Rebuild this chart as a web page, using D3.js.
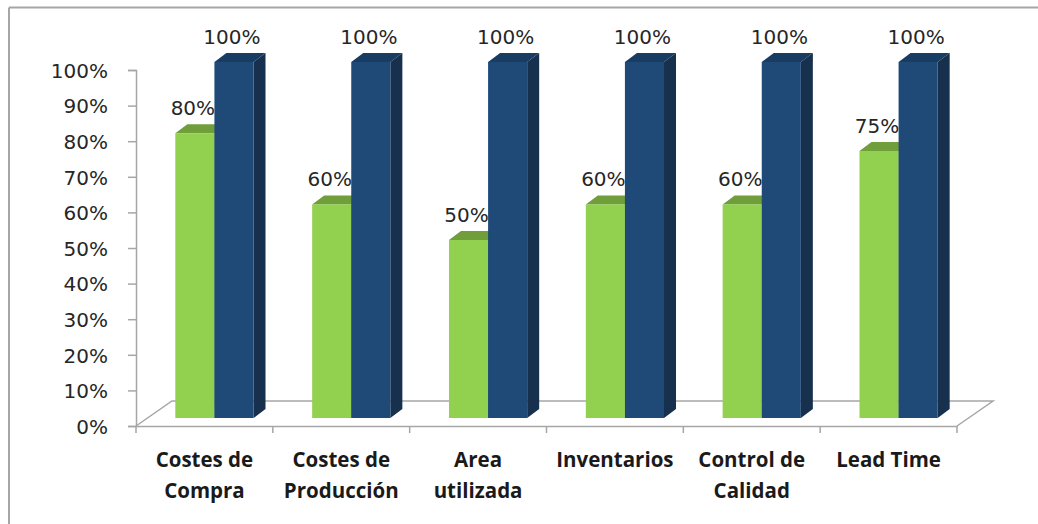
<!DOCTYPE html>
<html>
<head>
<meta charset="utf-8">
<script src="https://cdn.jsdelivr.net/npm/d3@7"></script>
<style>
  html, body { margin: 0; padding: 0; background: #fff; }
  svg { display: block; }
</style>
</head>
<body>
<svg id="chart" width="1038" height="524"></svg>
<script>
// Categories (two-line labels) and the two series, as fractions of 100 %
const categories = [
  ["Costes de", "Compra"],
  ["Costes de", "Producción"],
  ["Area", "utilizada"],
  ["Inventarios"],
  ["Control de", "Calidad"],
  ["Lead Time"]
];
const seriesBefore = [0.80, 0.60, 0.50, 0.60, 0.60, 0.75];
const seriesAfter  = [1.00, 1.00, 1.00, 1.00, 1.00, 1.00];
const tickValues = [0, 0.1, 0.2, 0.3, 0.4, 0.5, 0.6, 0.7, 0.8, 0.9, 1.0];

const svg = d3.select("#chart");
const W = 1038, H = 524;

// Outer frame (top and left edges visible)
svg.append("line").attr("x1", 9).attr("y1", 7.5).attr("x2", W).attr("y2", 7.5)
  .attr("stroke", "#a6a6a6").attr("stroke-width", 2);
svg.append("line").attr("x1", 9).attr("y1", 7.5).attr("x2", 9).attr("y2", H)
  .attr("stroke", "#a6a6a6").attr("stroke-width", 2);

// Plot geometry: front edge of the floor, the depth of the floor,
// the plane the bars stand in and the bars' own depth
const floorLeft = 136, floorRight = 957, floorY = 426;
const depth = { dx: 36, dy: -25 };
const barPlane = { dx: 10, dy: -8 };
const barDepth = { dx: 12, dy: -9 };

const ids = categories.map((c, i) => i);
const x = d3.scaleBand().domain(ids).range([floorLeft, floorRight]);
const axisY = d3.scaleLinear().domain([0, 1]).range([floorY, 70]);
const barY = d3.scaleLinear().domain([0, 1]).range([floorY + barPlane.dy, 70 + barPlane.dy]);

const inner = d3.scaleBand().domain(["before", "after"])
  .range([0, x.bandwidth()]).paddingOuter(0.75).paddingInner(0);

const gridColor = "#a6a6a6";

// Floor
const floor = svg.append("g").attr("fill", "none").attr("stroke", gridColor).attr("stroke-width", 1.5);
floor.append("path").attr("d", d3.line()([
  [floorLeft, floorY],
  [floorLeft + depth.dx, floorY + depth.dy],
  [floorRight + depth.dx, floorY + depth.dy],
  [floorRight, floorY]
]));

// Value axis
const yAxis = d3.axisLeft(axisY).tickValues(tickValues).tickSize(8).tickPadding(20)
  .tickFormat(d3.format(".0%"));
const gy = svg.append("g").attr("transform", `translate(${floorLeft},0)`).call(yAxis);
gy.select(".domain").attr("stroke", gridColor).attr("stroke-width", 1.5);
gy.selectAll(".tick line").attr("stroke", gridColor).attr("stroke-width", 1.5);
gy.selectAll(".tick text").attr("font-family", "DejaVu Sans").attr("font-size", 20)
  .attr("fill", "#262626").attr("dy", "0.36em");

// Category axis along the front edge of the floor
const xAxis = d3.axisBottom(x).tickSize(0).tickFormat("");
const gx = svg.append("g").attr("transform", `translate(0,${floorY})`).call(xAxis);
gx.select(".domain").attr("stroke", gridColor).attr("stroke-width", 1.5);
const boundaries = ids.map(i => x(i)).concat([floorRight]);
gx.selectAll(".bound").data(boundaries).join("line")
  .attr("x1", d => d).attr("x2", d => d).attr("y1", 0).attr("y2", 7)
  .attr("stroke", gridColor).attr("stroke-width", 1.5);

// Category labels
const labels = svg.append("g").attr("font-family", "Open Sans").attr("font-weight", 700)
  .attr("font-size", 20.5).attr("fill", "#1a1a1a").attr("text-anchor", "middle");
categories.forEach((lines, i) => {
  const t = labels.append("text").attr("x", x(i) + x.bandwidth() / 2);
  lines.forEach((ln, k) => {
    t.append("tspan").attr("x", x(i) + x.bandwidth() / 2).attr("y", 467 + k * 31).text(ln);
  });
});

// 3-D bars
const palettes = {
  before: { front: "#92d050", top: "#6f9e3b", side: "#5f8a31" },
  after:  { front: "#1f4a78", top: "#193c62", side: "#16304d" }
};

function drawBar(g, x0, w, v, pal) {
  const yb = barY(0), yt = barY(v);
  const { dx, dy } = barDepth;
  g.append("path").attr("fill", pal.side)
    .attr("d", d3.line()([[x0 + w, yb], [x0 + w + dx, yb + dy], [x0 + w + dx, yt + dy], [x0 + w, yt]]));
  g.append("path").attr("fill", pal.top)
    .attr("d", d3.line()([[x0, yt], [x0 + dx, yt + dy], [x0 + w + dx, yt + dy], [x0 + w, yt]]));
  g.append("rect").attr("x", x0).attr("y", yt).attr("width", w).attr("height", yb - yt)
    .attr("fill", pal.front);
}

const bars = svg.append("g");
const valueLabels = svg.append("g").attr("font-family", "DejaVu Sans").attr("font-size", 20)
  .attr("fill", "#262626").attr("text-anchor", "middle");
const fmt = d3.format(".0%");

ids.forEach(i => {
  const base = x(i) + barPlane.dx;
  [["before", seriesBefore[i]], ["after", seriesAfter[i]]].forEach(([key, v]) => {
    const x0 = base + inner(key);
    drawBar(bars, x0, inner.bandwidth(), v, palettes[key]);
  });
});
ids.forEach(i => {
  const base = x(i) + barPlane.dx;
  [["before", seriesBefore[i]], ["after", seriesAfter[i]]].forEach(([key, v]) => {
    const x0 = base + inner(key);
    valueLabels.append("text").attr("x", x0 + inner.bandwidth() / 2 - 2)
      .attr("y", barY(v) - 18).text(fmt(v));
  });
});
</script>
</body>
</html>
